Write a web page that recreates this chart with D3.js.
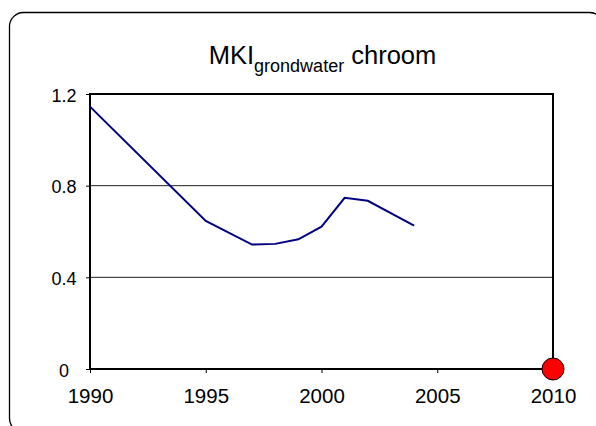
<!DOCTYPE html>
<html>
<head>
<meta charset="utf-8">
<script src="https://d3js.org/d3.v7.min.js"></script>
<style>
  body { margin: 0; background: #fff; }
  text { font-family: "Liberation Sans", Arial, sans-serif; fill: #000; }
</style>
</head>
<body>
<svg width="596" height="426"></svg>
<script>
// data
var years = [1990, 1995, 1997, 1998, 1999, 2000, 2001, 2002, 2004];
var values = [1.145, 0.646, 0.543, 0.546, 0.566, 0.621, 0.747, 0.734, 0.626];
var targetYear = [2010];
var targetValue = [0];
var xTicks = [1990, 1995, 2000, 2005, 2010];
var yTicks = [0, 0.4, 0.8, 1.2];

var svg = d3.select("svg");

// outer rounded frame (runs off right/bottom edge like the original)
svg.append("rect")
  .attr("x", 9.5).attr("y", 12.5)
  .attr("width", 594).attr("height", 420)
  .attr("rx", 14)
  .attr("fill", "#fff")
  .attr("stroke", "#000")
  .attr("stroke-width", 1.3);

var pLeft = 90, pRight = 553, pTop = 94, pBottom = 369;
var x = d3.scaleLinear().domain([1990, 2010]).range([pLeft, pRight]);
var y = d3.scaleLinear().domain([0, 1.2]).range([pBottom, pTop]);

// title with subscript
var title = svg.append("text")
  .attr("x", (pLeft + pRight) / 2 + 1)
  .attr("y", 64)
  .attr("text-anchor", "middle")
  .attr("font-size", "25.5px");
title.append("tspan").text("MKI");
title.append("tspan").attr("font-size", "18px").attr("dy", 8).text("grondwater");
title.append("tspan").attr("dy", -8).text(" chroom");

// gridlines
svg.append("g").selectAll("line")
  .data(yTicks.filter(function(d) { return d > 0 && d < 1.2; }))
  .enter().append("line")
  .attr("x1", pLeft).attr("x2", pRight)
  .attr("y1", function(d) { return y(d); })
  .attr("y2", function(d) { return y(d); })
  .attr("stroke", "#222")
  .attr("stroke-width", 1);

// plot frame
svg.append("rect")
  .attr("x", pLeft).attr("y", pTop)
  .attr("width", pRight - pLeft).attr("height", pBottom - pTop)
  .attr("fill", "none")
  .attr("stroke", "#000")
  .attr("stroke-width", 2);

// axes
var yAxis = svg.append("g")
  .attr("transform", "translate(" + pLeft + ",0)")
  .call(d3.axisLeft(y).tickValues(yTicks).tickSize(4)
    .tickFormat(function(d) { return d === 0 ? "0" : d3.format(".1f")(d); }));
yAxis.select(".domain").remove();
yAxis.selectAll("text")
  .attr("x", -26)
  .attr("text-anchor", "middle")
  .attr("font-size", "18px")
  .attr("dy", "0.4em")
  .style("font-family", "Liberation Sans, Arial, sans-serif");
yAxis.selectAll("line").attr("stroke", "#000");

var xAxis = svg.append("g")
  .attr("transform", "translate(0," + pBottom + ")")
  .call(d3.axisBottom(x).tickValues(xTicks).tickSize(4).tickPadding(15)
    .tickFormat(d3.format("d")));
xAxis.select(".domain").remove();
xAxis.selectAll("text").attr("font-size", "20.5px").style("font-family", "Liberation Sans, Arial, sans-serif");
xAxis.selectAll("line").attr("stroke", "#000");

// series line
var line = d3.line()
  .x(function(d, i) { return x(years[i]); })
  .y(function(d) { return y(d); });
svg.append("path")
  .datum(values)
  .attr("d", line)
  .attr("fill", "none")
  .attr("stroke", "#000080")
  .attr("stroke-width", 2);

// target marker
svg.append("g").selectAll("circle")
  .data(targetValue)
  .enter().append("circle")
  .attr("cx", function(d, i) { return x(targetYear[i]); })
  .attr("cy", function(d) { return y(d); })
  .attr("r", 11)
  .attr("fill", "#ff0000")
  .attr("stroke", "#000")
  .attr("stroke-width", 1);
</script>
</body>
</html>
